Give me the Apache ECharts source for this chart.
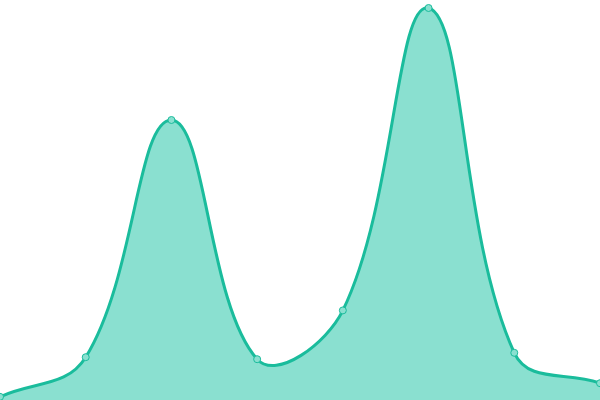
<!DOCTYPE html>
<html>
<head>
<meta charset="utf-8">
<script src="https://cdn.jsdelivr.net/npm/echarts@6/dist/echarts.min.js"></script>
<style>html,body{margin:0;padding:0;background:#fff;}#c{width:600px;height:400px;}</style>
</head>
<body>
<div id="c"></div>
<script>
var categories = ['A', 'B', 'C', 'D', 'E', 'F', 'G', 'H'];
var values = [0.8, 10.7, 70, 10.2, 22.4, 98, 11.8, 4.2];
var yMin = 0;
var yMax = 100;
var tension = 0.4;

function splinePath(pts, bottom, top) {
  var n = pts.length;
  var cps = [];
  for (var i = 0; i < n; i++) {
    var prev = pts[Math.max(i - 1, 0)], cur = pts[i], next = pts[Math.min(i + 1, n - 1)];
    var d01 = Math.hypot(cur[0] - prev[0], cur[1] - prev[1]);
    var d12 = Math.hypot(next[0] - cur[0], next[1] - cur[1]);
    var s01 = d01 / (d01 + d12), s12 = d12 / (d01 + d12);
    if (isNaN(s01)) s01 = 0;
    if (isNaN(s12)) s12 = 0;
    var fa = tension * s01, fb = tension * s12;
    var cap = function (y) { return Math.max(top, Math.min(bottom, y)); };
    cps.push({
      p: [cur[0] - fa * (next[0] - prev[0]), cap(cur[1] - fa * (next[1] - prev[1]))],
      n: [cur[0] + fb * (next[0] - prev[0]), cap(cur[1] + fb * (next[1] - prev[1]))]
    });
  }
  var d = 'M' + pts[0][0] + ',' + pts[0][1];
  for (var j = 1; j < n; j++) {
    d += ' C' + cps[j - 1].n[0] + ',' + cps[j - 1].n[1] + ' ' + cps[j].p[0] + ',' + cps[j].p[1] + ' ' + pts[j][0] + ',' + pts[j][1];
  }
  return d;
}

var chart = echarts.init(document.getElementById('c'));
chart.setOption({
  animation: false,
  grid: { left: 0, right: 0, top: 0, bottom: 0 },
  xAxis: { type: 'category', data: categories, boundaryGap: false, show: false },
  yAxis: { type: 'value', min: yMin, max: yMax, show: false },
  series: [{
    type: 'custom',
    data: values.map(function (v, i) { return [i, v]; }),
    renderItem: function (params, api) {
      if (params.dataIndex !== 0) return null;
      var pts = values.map(function (v, i) { return api.coord([i, v]); });
      var bottom = api.coord([0, yMin])[1];
      var top = api.coord([0, yMax])[1];
      var line = splinePath(pts, bottom, top);
      var area = line + ' L' + pts[pts.length - 1][0] + ',' + bottom + ' L' + pts[0][0] + ',' + bottom + ' Z';
      return {
        type: 'group',
        children: [
          { type: 'path', shape: { pathData: area }, style: { fill: '#8ae0d0', stroke: null } },
          { type: 'path', shape: { pathData: line }, style: { fill: null, stroke: '#1abc9c', lineWidth: 3 } }
        ]
      };
    }
  }, {
    type: 'line',
    data: values,
    z: 5,
    symbol: 'circle',
    symbolSize: 7,
    lineStyle: { width: 0, opacity: 0 },
    itemStyle: { color: '#8ae0d0', borderColor: '#1abc9c', borderWidth: 1 }
  }]
});
</script>
</body>
</html>
